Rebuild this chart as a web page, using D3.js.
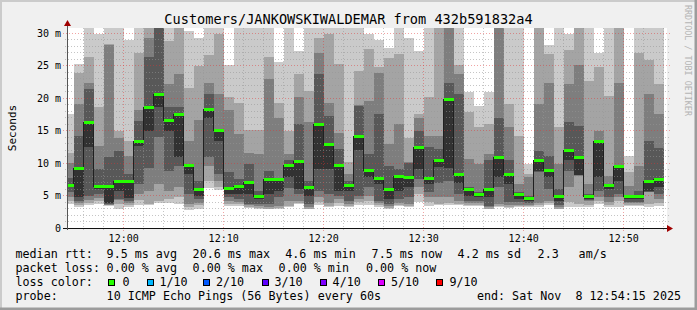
<!DOCTYPE html>
<html>
<head>
<meta charset="utf-8">
<script src="https://cdn.jsdelivr.net/npm/d3@7"></script>
<style>
html, body { margin: 0; padding: 0; background: #f0f0f0; }
svg { display: block; }
text { font-family: "DejaVu Sans Mono", monospace; white-space: pre; }
</style>
</head>
<body>
<div id="chart"></div>
<script>
'use strict';

// first bar starts at 11:54, one bar per minute
const firstBar = new Date(2025, 10, 8, 11, 54, 0);
const viewStart = new Date(2025, 10, 8, 11, 54, 20);
const viewEnd = new Date(2025, 10, 8, 12, 54, 20);

// median rtt per minute (ms)
const medians = [
    6.5, 9.1, 16.2, 6.4, 6.4, 7.2, 7.2, 13.3, 18.5, 20.5,
    16.5, 17.5, 9.7, 5.9, 18.3, 15.0, 6.1, 6.4, 7.0, 4.9,
    7.5, 7.4, 9.6, 10.2, 6.2, 16.0, 12.8, 9.7, 6.6, 14.1,
    8.8, 7.7, 5.9, 7.9, 7.8, 12.4, 7.7, 10.4, 19.8, 8.3,
    5.9, 5.2, 5.9, 10.9, 8.2, 5.1, 4.5, 10.4, 8.9, 4.8,
    12.0, 10.9, 4.8, 13.3, 6.5, 9.4, 4.8, 4.8, 7.2, 7.4
];

// the 10 sorted pings of each minute (ms), used for the smoke
const pings = [
    [3.7, 4.2, 4.8, 5.5, 6.3, 6.8, 7.7, 10.0, 11.5, 17.6],
    [3.2, 3.5, 3.9, 4.2, 4.7, 9.1, 14.2, 19.1, 23.9, 25.3],
    [3.5, 3.8, 4.3, 5.0, 12.4, 16.2, 21.4, 22.3, 26.3, 32],
    [3.7, 4.1, 4.6, 5.2, 6.0, 6.6, 9.1, 12.7, 18.6, 29.8],
    [3.4, 3.5, 3.6, 3.7, 3.8, 6.4, 10.9, 28.2, 28.3, 32],
    [2.9, 3.7, 4.3, 4.5, 5.7, 7.3, 11.9, 13.9, 15.0, 32],
    [3.3, 3.6, 3.9, 4.2, 4.6, 7.3, 8.3, 11.1, 13.4, 28.9],
    [3.5, 4.3, 5.2, 6.8, 12.7, 13.3, 16.5, 18.2, 26.9, 32],
    [3.5, 3.7, 5.7, 9.3, 15.0, 18.5, 26.3, 29.3, 32, 32],
    [3.9, 4.2, 6.8, 14.0, 18.6, 20.5, 32, 32, 32, 32],
    [3.8, 4.5, 5.7, 8.8, 15.0, 16.4, 18.6, 22.2, 28.8, 32],
    [3.7, 4.7, 6.3, 9.6, 10.9, 17.5, 18.6, 23.7, 32, 32],
    [2.7, 3.2, 3.7, 5.2, 8.3, 9.6, 9.8, 13.4, 21.6, 30.4],
    [3.0, 3.5, 3.9, 4.4, 5.0, 5.9, 7.2, 16.6, 25.0, 29.3],
    [6.2, 7.3, 9.6, 10.9, 16.9, 18.3, 20.6, 22.3, 26.6, 32],
    [5.8, 6.3, 7.3, 8.3, 13.4, 15.0, 15.3, 20.6, 29.8, 32],
    [3.4, 3.7, 4.1, 4.7, 5.3, 6.1, 8.6, 18.2, 20.1, 25.1],
    [3.4, 3.7, 4.0, 4.5, 5.2, 6.4, 7.5, 14.5, 19.3, 32],
    [3.1, 3.3, 3.5, 3.7, 5.2, 7.0, 9.8, 11.6, 15.1, 32],
    [2.9, 3.1, 3.4, 3.7, 4.5, 5.0, 5.7, 11.4, 15.1, 32],
    [2.9, 3.0, 3.3, 3.7, 5.2, 7.5, 8.8, 22.9, 26.4, 32],
    [2.9, 3.1, 3.4, 4.7, 5.7, 7.4, 7.5, 17.0, 19.3, 25.5],
    [3.2, 3.4, 4.2, 6.2, 7.8, 9.6, 10.4, 11.4, 14.9, 32],
    [3.7, 3.9, 4.2, 5.2, 6.0, 10.2, 16.0, 20.1, 23.7, 27.2],
    [2.9, 3.0, 3.2, 3.7, 5.0, 6.2, 7.3, 16.3, 21.1, 32],
    [3.6, 4.0, 4.7, 5.7, 9.1, 16.0, 23.7, 27.0, 29.3, 32],
    [3.2, 3.4, 3.9, 5.2, 9.1, 12.8, 17.3, 19.3, 29.8, 32],
    [3.4, 3.8, 4.5, 5.0, 5.7, 9.7, 12.2, 14.7, 25.2, 32],
    [3.2, 3.4, 3.7, 4.2, 5.7, 6.6, 7.3, 8.3, 10.1, 32],
    [3.6, 4.0, 4.5, 5.0, 12.0, 14.1, 18.8, 19.0, 24.2, 32],
    [3.6, 4.2, 5.0, 6.3, 7.8, 8.8, 11.4, 19.6, 27.5, 29.8],
    [3.3, 3.6, 3.9, 4.2, 6.8, 7.7, 17.5, 23.8, 24.8, 28.9],
    [2.9, 3.1, 3.4, 3.7, 4.5, 5.9, 9.6, 12.9, 26.2, 27.7],
    [3.4, 3.5, 3.8, 4.5, 5.7, 7.9, 9.1, 16.0, 26.8, 32],
    [3.3, 3.4, 3.7, 4.7, 6.3, 7.8, 10.0, 10.1, 13.9, 29.3],
    [4.0, 5.2, 6.3, 7.5, 9.1, 12.4, 15.0, 17.0, 17.6, 27.2],
    [3.4, 4.0, 4.7, 5.5, 6.8, 7.7, 12.4, 14.2, 20.1, 32],
    [3.5, 3.7, 4.7, 7.0, 9.4, 10.4, 12.2, 14.2, 32, 32],
    [3.6, 3.9, 4.7, 7.3, 9.3, 19.8, 22.4, 32, 32, 32],
    [3.5, 3.7, 4.2, 5.2, 7.0, 8.3, 20.6, 23.7, 25.1, 32],
    [3.4, 3.6, 3.9, 4.2, 5.0, 5.9, 6.3, 10.6, 17.8, 20.9],
    [3.4, 3.6, 3.8, 4.2, 4.7, 5.2, 5.5, 9.9, 15.6, 18.8],
    [2.9, 3.0, 3.2, 3.4, 4.7, 5.9, 10.4, 11.4, 16.0, 20.9],
    [3.2, 3.4, 3.7, 6.3, 7.8, 10.9, 17.0, 32, 32, 32],
    [3.1, 3.3, 3.5, 4.0, 6.8, 8.2, 10.4, 15.5, 19.1, 32],
    [3.2, 3.4, 3.6, 4.0, 4.5, 5.1, 5.5, 6.8, 14.2, 32],
    [3.3, 3.4, 3.6, 3.9, 4.2, 4.5, 5.0, 7.8, 8.3, 9.8],
    [3.2, 3.5, 3.9, 8.6, 8.8, 10.4, 11.9, 19.1, 32, 32],
    [3.6, 3.9, 4.2, 6.0, 7.8, 8.9, 11.1, 22.4, 26.8, 28.2],
    [2.9, 3.0, 3.2, 3.6, 4.2, 4.8, 6.0, 9.8, 15.5, 32],
    [3.2, 4.0, 6.3, 8.8, 10.4, 12.0, 16.3, 22.2, 27.4, 29.9],
    [3.3, 3.7, 8.0, 8.1, 8.2, 10.9, 15.7, 25.1, 32, 32],
    [3.2, 3.5, 4.1, 4.3, 4.5, 4.8, 5.2, 6.8, 22.7, 32],
    [3.7, 4.2, 4.7, 5.7, 7.8, 13.3, 13.4, 15.0, 24.8, 26.9],
    [3.3, 3.6, 4.0, 4.7, 6.0, 6.5, 6.8, 8.0, 20.4, 32],
    [3.3, 4.2, 4.7, 5.2, 7.3, 9.4, 9.6, 22.3, 32, 32],
    [3.4, 3.6, 3.9, 4.0, 4.5, 4.8, 5.0, 6.5, 8.6, 11.1],
    [3.4, 3.6, 3.9, 4.0, 4.5, 4.8, 5.7, 9.6, 27.0, 32],
    [3.3, 3.7, 5.5, 5.6, 5.7, 7.2, 13.4, 20.6, 25.8, 32],
    [3.4, 3.9, 4.5, 5.2, 6.3, 7.4, 12.3, 17.5, 22.2, 32]
];

// loss index per minute (0 = no loss)
const loss = [
    0, 0, 0, 0, 0, 0, 0, 0, 0, 0, 0, 0, 0, 0, 0, 0, 0, 0, 0, 0,
    0, 0, 0, 0, 0, 0, 0, 0, 0, 0, 0, 0, 0, 0, 0, 0, 0, 0, 0, 0,
    0, 0, 0, 0, 0, 0, 0, 0, 0, 0, 0, 0, 0, 0, 0, 0, 0, 0, 0, 0
];

const smokeColors = ['#cacaca', '#a4a4a4', '#7e7e7e', '#585858', '#323232'];
const lossColors = ['#26ff00', '#00b8ff', '#0059ff', '#5e00ff', '#7e00ff', '#dd00ff', '#ff0000'];
const lossLabels = ['0', '1/10', '2/10', '3/10', '4/10', '5/10', '9/10'];
const yTicks = [0, 5, 10, 15, 20, 25, 30];

const title = 'Customers/JANKOWSKIWALDEMAR from 432b591832a4';
const statLabels = ['median rtt:', 'packet loss:', 'loss color:', 'probe:'];
const rttItems = ['9.5 ms avg', '20.6 ms max', '4.6 ms min', '7.5 ms now', '4.2 ms sd', '2.3', 'am/s'];
const lossItems = ['0.00 % avg', '0.00 % max', '0.00 % min', '0.00 % now'];
const probeText = '10 ICMP Echo Pings (56 Bytes) every 60s';
const endText = 'end: Sat Nov  8 12:54:15 2025';

const W = 697, H = 310;
const plot = {left: 67, right: 667, top: 28, bottom: 228};

const svg = d3.select('#chart')
    .append('svg')
    .attr('width', W)
    .attr('height', H);

// background + shaded frame
svg.append('rect').attr('width', W).attr('height', H).attr('fill', '#f0f0f0');
svg.append('path').attr('d', `M0,${H} V0 H${W}`).attr('stroke', '#cbcbcb').attr('stroke-width', 4).attr('fill', 'none');
svg.append('path').attr('d', `M0,${H} H${W} V0`).attr('stroke', '#9c9c9c').attr('stroke-width', 5).attr('fill', 'none');

const x = d3.scaleTime().domain([viewStart, viewEnd]).range([plot.left, plot.right]);
const y = d3.scaleLinear().domain([0, 30.8]).range([plot.bottom, plot.top]);

svg.append('clipPath').attr('id', 'clip')
    .append('rect')
    .attr('x', plot.left).attr('y', plot.top)
    .attr('width', plot.right - plot.left).attr('height', plot.bottom - plot.top);

svg.append('rect')
    .attr('x', plot.left).attr('y', plot.top)
    .attr('width', plot.right - plot.left).attr('height', plot.bottom - plot.top)
    .attr('fill', '#ffffff');

const bars = medians.map((m, i) => ({
    t0: d3.timeMinute.offset(firstBar, i),
    t1: d3.timeMinute.offset(firstBar, i + 1),
    med: m,
    p: pings[i],
    loss: loss[i]
}));

// smoke: band k spans ping k .. ping 9-k, outer bands lightest
const smoke = svg.append('g').attr('clip-path', 'url(#clip)').attr('shape-rendering', 'crispEdges');
bars.forEach(d => {
    smoke.selectAll(null)
        .data(smokeColors)
        .enter()
        .append('rect')
        .attr('x', x(d.t0))
        .attr('width', x(d.t1) - x(d.t0))
        .attr('y', (c, k) => y(d.p[9 - k]))
        .attr('height', (c, k) => y(d.p[k]) - y(d.p[9 - k]))
        .attr('fill', c => c);
});

// grid
const grid = svg.append('g').attr('shape-rendering', 'crispEdges');
const minorY = d3.range(1, 31).filter(v => v % 5 !== 0);
grid.selectAll('.hminor')
    .data(minorY)
    .enter()
    .append('line')
    .attr('x1', plot.left - 2).attr('x2', plot.right + 2)
    .attr('y1', d => y(d)).attr('y2', d => y(d))
    .attr('stroke', 'rgba(150,150,150,0.55)')
    .attr('stroke-dasharray', '1,2');
const minorX = x.ticks(d3.timeMinute.every(2)).filter(t => t.getMinutes() % 10 !== 0);
grid.selectAll('.vminor')
    .data(minorX)
    .enter()
    .append('line')
    .attr('x1', d => x(d)).attr('x2', d => x(d))
    .attr('y1', plot.bottom + 2).attr('y2', plot.top)
    .attr('stroke', 'rgba(150,150,150,0.55)')
    .attr('stroke-dasharray', '1,2');
grid.selectAll('.hmajor')
    .data(yTicks.slice(1))
    .enter()
    .append('line')
    .attr('x1', plot.left - 4).attr('x2', plot.right + 4)
    .attr('y1', d => y(d)).attr('y2', d => y(d))
    .attr('stroke', 'rgba(225,50,50,0.45)')
    .attr('stroke-dasharray', '1,2');
grid.selectAll('.vmajor')
    .data(x.ticks(d3.timeMinute.every(10)))
    .enter()
    .append('line')
    .attr('x1', d => x(d)).attr('x2', d => x(d))
    .attr('y1', plot.bottom + 3).attr('y2', plot.top)
    .attr('stroke', 'rgba(225,50,50,0.45)')
    .attr('stroke-dasharray', '1,2');

// median step line and loss coloured marks
const stepPts = bars.map(d => [x(d.t0), y(d.med)]);
stepPts.push([x(bars[bars.length - 1].t1), y(bars[bars.length - 1].med)]);
svg.append('path')
    .attr('clip-path', 'url(#clip)')
    .attr('d', d3.line().curve(d3.curveStepAfter)(stepPts))
    .attr('fill', 'none')
    .attr('stroke', '#202020')
    .attr('stroke-width', 1)
    .attr('shape-rendering', 'crispEdges');

svg.append('g')
    .attr('clip-path', 'url(#clip)')
    .attr('shape-rendering', 'crispEdges')
    .selectAll('rect')
    .data(bars)
    .enter()
    .append('rect')
    .attr('x', d => x(d.t0))
    .attr('width', d => x(d.t1) - x(d.t0))
    .attr('y', d => y(d.med) - 1.5)
    .attr('height', 3)
    .attr('fill', d => lossColors[d.loss]);

// axes
svg.append('line')
    .attr('x1', plot.left - 4).attr('x2', plot.right + 2)
    .attr('y1', plot.bottom + 0.5).attr('y2', plot.bottom + 0.5)
    .attr('stroke', '#111');
svg.append('line')
    .attr('x1', plot.left + 0.5).attr('x2', plot.left + 0.5)
    .attr('y1', plot.bottom + 2).attr('y2', plot.top - 5)
    .attr('stroke', '#555');
svg.append('path')
    .attr('d', `M${plot.right + 6},${plot.bottom + 0.5} l-6,-3.5 v7 z`)
    .attr('fill', '#a00000');
svg.append('path')
    .attr('d', `M${plot.left + 0.5},${plot.top - 8} l-3.5,6 h7 z`)
    .attr('fill', '#a00000');

svg.append('g')
    .selectAll('text')
    .data(yTicks)
    .enter()
    .append('text')
    .attr('x', 61)
    .attr('y', d => y(d) + 3.7)
    .attr('text-anchor', 'end')
    .attr('font-size', '10px')
    .attr('fill', '#000')
    .text(d => d === 0 ? '0' : d + ' m');

svg.append('g')
    .selectAll('text')
    .data(x.ticks(d3.timeMinute.every(10)))
    .enter()
    .append('text')
    .attr('x', d => x(d))
    .attr('y', 241.5)
    .attr('text-anchor', 'middle')
    .attr('font-size', '10px')
    .attr('fill', '#000')
    .text(d3.timeFormat('%H:%M'));

svg.append('text')
    .attr('x', W / 2)
    .attr('y', 24)
    .attr('text-anchor', 'middle')
    .attr('font-size', '13.6px')
    .text(title);

svg.append('text')
    .attr('transform', 'translate(15.5,128) rotate(-90)')
    .attr('text-anchor', 'middle')
    .attr('font-family', '"DejaVu Sans", sans-serif')
    .attr('font-size', '11px')
    .text('Seconds');

svg.append('text')
    .attr('transform', 'translate(685,5) rotate(90)')
    .attr('font-size', '8.4px')
    .attr('fill', '#b4b4b4')
    .text('RRDTOOL / TOBI OETIKER');

// legend
const legendRows = [258.4, 272.2, 286, 299.8];
const legend = svg.append('g').attr('font-size', '11.7px').attr('fill', '#000');

legend.selectAll('.lab')
    .data(statLabels)
    .enter()
    .append('text')
    .attr('x', 15.5)
    .attr('y', (d, i) => legendRows[i])
    .text(d => d);

const rttX = [106.6, 192.6, 285.3, 371.6, 457.6, 537.6, 578.6];
legend.selectAll('.rtt')
    .data(rttItems)
    .enter()
    .append('text')
    .attr('x', (d, i) => rttX[i])
    .attr('y', legendRows[0])
    .text(d => d);

const lossX = [106.6, 192.6, 278.6, 366.0];
legend.selectAll('.loss')
    .data(lossItems)
    .enter()
    .append('text')
    .attr('x', (d, i) => lossX[i])
    .attr('y', legendRows[1])
    .text(d => d);

const boxX = [108.5, 147, 203.5, 262, 320.5, 378.5, 436.5];
const boxLabelX = [122.4, 159.4, 216, 274.4, 332.6, 391, 449.4];
legend.selectAll('.box')
    .data(lossColors)
    .enter()
    .append('rect')
    .attr('x', (d, i) => boxX[i])
    .attr('y', 279.5)
    .attr('width', 6)
    .attr('height', 6)
    .attr('fill', d => d)
    .attr('stroke', '#000')
    .attr('stroke-width', 1)
    .attr('shape-rendering', 'crispEdges');
legend.selectAll('.boxlab')
    .data(lossLabels)
    .enter()
    .append('text')
    .attr('x', (d, i) => boxLabelX[i])
    .attr('y', legendRows[2])
    .text(d => d);

legend.append('text')
    .attr('x', 106.6)
    .attr('y', legendRows[3])
    .text(probeText);
legend.append('text')
    .attr('x', 681)
    .attr('y', legendRows[3])
    .attr('text-anchor', 'end')
    .text(endText);
</script>
</body>
</html>
